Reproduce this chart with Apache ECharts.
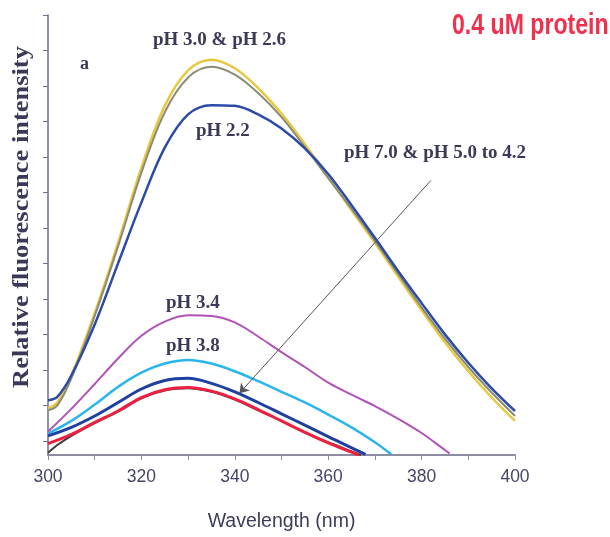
<!DOCTYPE html>
<html>
<head>
<meta charset="utf-8">
<script src="https://cdn.jsdelivr.net/npm/echarts@6/dist/echarts.min.js"></script>
<style>
  html, body { margin: 0; padding: 0; background: #ffffff; }
  #chart { width: 610px; height: 537px; }
</style>
</head>
<body>
<div id="chart"></div>
<script>
// Emission wavelengths (nm) sampled for each spectrum
const wlHigh = [300, 302, 305, 310, 315, 320, 325, 330, 335, 340, 345, 350, 355, 360, 365, 370, 375, 380, 385, 390, 395, 400];
const wlPH34 = [300, 305, 310, 315, 320, 325, 330, 335, 340, 345, 350, 355, 360, 365, 370, 375, 380, 385, 386];
const wlPH38 = [300, 305, 310, 315, 320, 325, 330, 335, 340, 345, 350, 355, 360, 365, 370, 373.5];
const wlPH70 = [300, 305, 310, 315, 320, 325, 330, 335, 340, 345, 350, 355, 360, 365, 368];
const wlPH50 = [300, 302, 305, 310, 315, 320, 325, 330, 335, 340, 345, 350, 355, 360, 365, 367];
const wlPH42 = [300, 305, 310, 315, 320, 325, 330, 335, 340, 345, 350, 355, 360, 365, 366.5];

// Relative fluorescence intensity (arbitrary units)
const ph30 = [66, 74, 112, 200, 299, 405, 492, 542, 557, 545, 517, 481, 438, 392, 345, 299, 251, 204, 159, 118, 81, 48];
const ph26 = [63, 70, 108, 196, 294, 398, 483, 532, 547, 536, 510, 476, 434, 390, 347, 302, 255, 208, 164, 124, 88, 55];
const ph22 = [77, 82, 112, 184, 270, 356, 433, 480, 493, 492, 480, 460, 432, 396, 352, 306, 259, 214, 170, 130, 94, 62];
const ph34 = [33, 65, 100, 136, 168, 188, 197, 196, 187, 167, 145, 124, 102, 85, 69, 51, 31, 7, 2];
const ph38 = [30, 48, 71, 96, 116, 129, 134, 129, 118, 104, 89, 74, 57, 39, 18, 1];
const ph70 = [27, 39, 55, 74, 93, 105, 108, 101, 89, 74, 58, 42, 26, 10, 1];
const ph50 = [3, 14, 27, 45, 61, 80, 91, 94, 89, 78, 63, 48, 32, 18, 5, 0];
const ph42 = [16, 29, 46, 62, 81, 92, 95, 90, 79, 64, 48, 32, 17, 4, 0];

// Axis ticks
const xTicks = [300, 320, 340, 360, 380, 400];
const yTickValues = [20, 70, 120, 170, 220, 270, 320, 370, 420, 470, 520, 570, 620];

const zip = (xs, ys) => ys.map((v, i) => [xs[i], v]);

const serifText = '"Liberation Serif", "Times New Roman", serif';
const sansText = '"Liberation Sans", Arial, sans-serif';
const labelInk = '#3a3a58';

function curve(name, xs, ys, color, width, extra) {
  return Object.assign({
    name: name,
    type: 'line',
    data: zip(xs, ys),
    showSymbol: false,
    smooth: 0.35,
    lineStyle: { color: color, width: width },
    itemStyle: { color: color },
    silent: true,
    z: 3
  }, extra || {});
}

const chart = echarts.init(document.getElementById('chart'), null, { renderer: 'canvas' });

chart.setOption({
  animation: false,
  backgroundColor: '#ffffff',
  grid: { left: 48, right: 95, top: 15, bottom: 82 },
  xAxis: {
    type: 'value',
    min: 300,
    max: 400,
    interval: 10,
    name: 'Wavelength (nm)',
    nameLocation: 'middle',
    nameGap: 57,
    nameTextStyle: { fontFamily: sansText, fontSize: 19.5, color: '#3c3c5c' },
    axisLine: { onZero: false, lineStyle: { color: '#8c8ca4', width: 2 } },
    axisTick: { show: true, inside: false, length: 5, lineStyle: { color: '#8c8ca4', width: 1 } },
    axisLabel: {
      margin: 13,
      fontFamily: sansText,
      fontSize: 17.5,
      color: '#45456a',
      formatter: v => (xTicks.indexOf(v) >= 0 ? String(v) : '')
    },
    splitLine: { show: false }
  },
  yAxis: {
    type: 'value',
    min: 0,
    max: 620,
    axisLine: { show: true, lineStyle: { color: '#6c6c8c', width: 1.5 } },
    axisTick: { show: true, length: 5, customValues: yTickValues, lineStyle: { color: '#6c6c8c', width: 1 } },
    axisLabel: { show: false },
    splitLine: { show: false }
  },
  series: [
    curve('pH 3.8', wlPH38, ph38, '#2cb4ec', 2.5),
    curve('pH 3.4', wlPH34, ph34, '#b052b8', 2),
    curve('pH 7.0', wlPH70, ph70, '#2040a0', 3),
    curve('pH 5.0', wlPH50, ph50, '#3a3a3a', 2),
    curve('pH 4.2', wlPH42, ph42, '#ee2040', 3, {
      markLine: {
        silent: true,
        symbol: ['none', 'arrow'],
        symbolSize: 9,
        label: { show: false },
        lineStyle: { color: '#555560', width: 1, type: 'solid' },
        data: [[{ coord: [382, 387] }, { coord: [341, 87] }]]
      }
    }),
    curve('pH 3.0', wlHigh, ph30, '#e8c840', 2.5),
    curve('pH 2.6', wlHigh, ph26, '#8a8c76', 2),
    curve('pH 2.2', wlHigh, ph22, '#2c4aa8', 2.5)
  ],
  graphic: [
    // vertical axis title, stretched along its length
    {
      type: 'text', x: 22, y: 217, rotation: Math.PI / 2, scaleX: 1.15,
      style: { text: 'Relative fluorescence intensity', fill: labelInk, font: 'bold 23px ' + serifText, align: 'center', verticalAlign: 'middle' }
    },
    {
      type: 'text', x: 452, y: 11, scaleX: 0.77,
      style: { text: '0.4 uM protein', fill: '#f0304c', font: 'bold 30px ' + sansText }
    },
    { type: 'text', left: 80, top: 55, style: { text: 'a', fill: labelInk, font: 'bold 18px ' + serifText } },
    { type: 'text', left: 153, top: 31, style: { text: 'pH 3.0 & pH 2.6', fill: labelInk, font: 'bold 19px ' + serifText } },
    { type: 'text', left: 196, top: 122, style: { text: 'pH 2.2', fill: labelInk, font: 'bold 19px ' + serifText } },
    { type: 'text', left: 344, top: 144, style: { text: 'pH 7.0 & pH 5.0 to 4.2', fill: labelInk, font: 'bold 19px ' + serifText } },
    { type: 'text', left: 166, top: 294, style: { text: 'pH 3.4', fill: labelInk, font: 'bold 19px ' + serifText } },
    { type: 'text', left: 166, top: 337, style: { text: 'pH 3.8', fill: labelInk, font: 'bold 19px ' + serifText } }
  ]
});
</script>
</body>
</html>
